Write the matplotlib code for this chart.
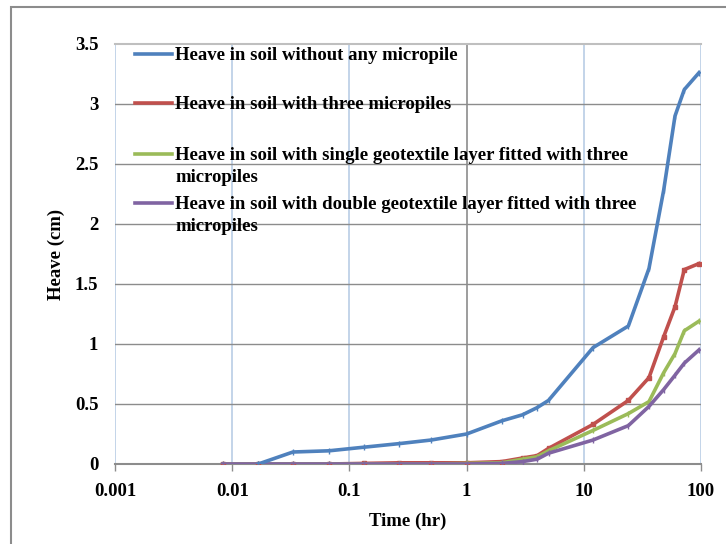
import matplotlib
matplotlib.use("Agg")
import matplotlib.pyplot as plt
from matplotlib.ticker import FixedLocator, NullLocator, FixedFormatter
from matplotlib.patches import Rectangle
from matplotlib.lines import Line2D

plt.rcParams['font.family'] = ['Liberation Serif', 'DejaVu Serif']
plt.rcParams['font.weight'] = 'bold'

# time (hr) of readings
time_hr = [0.0083, 0.0167, 0.033, 0.067, 0.133, 0.267, 0.5, 1, 2, 3, 4, 5,
           12, 24, 36, 48, 60, 72, 96]

# heave (cm)
no_pile = [0.0, 0.10, 0.11, 0.14, 0.17, 0.20, 0.25, 0.36, 0.41, 0.47, 0.53,
           0.97, 1.15, 1.63, 2.28, 2.90, 3.12, 3.26]
three_piles = [0, 0, 0, 0, 0.005, 0.01, 0.01, 0.01, 0.02, 0.05, 0.07, 0.13,
               0.33, 0.53, 0.72, 1.06, 1.31, 1.62, 1.67]
single_geo = [0, 0, 0, 0, 0, 0, 0, 0.005, 0.01, 0.04, 0.06, 0.11,
              0.28, 0.42, 0.52, 0.76, 0.92, 1.11, 1.19]
double_geo = [0, 0, 0, 0, 0, 0, 0, 0, 0.005, 0.02, 0.04, 0.09,
              0.20, 0.32, 0.48, 0.62, 0.74, 0.84, 0.95]

labels = ["Heave in soil without any micropile",
          "Heave in soil with three micropiles",
          "Heave in soil with single geotextile layer fitted with three\nmicropiles",
          "Heave in soil with double geotextile layer fitted with three\nmicropiles"]
colors = ['#4F81BD', '#C0504D', '#9BBB59', '#8064A2']

W, H = 726, 544
fig = plt.figure(figsize=(W / 100, H / 100), dpi=100)
ax = fig.add_axes([115 / W, 1 - 464 / H, 586 / W, 420 / H])

# outer frame of the chart (only left and top visible in the picture)
fig.patches.append(Rectangle((11 / W, -0.1), 1.2, 1 - 7 / H + 0.1,
                             transform=fig.transFigure, fill=False,
                             edgecolor='#8c8c8c', linewidth=1.5))

ax.plot(time_hr[1:], no_pile, color=colors[0], lw=2.6, marker='|', ms=4,
        zorder=5)
ax.plot(time_hr, three_piles, color=colors[1], lw=2.6, marker='s', ms=3.5,
        zorder=4)
ax.plot(time_hr, single_geo, color=colors[2], lw=2.6, marker='|', ms=4,
        zorder=4)
ax.plot(time_hr, double_geo, color=colors[3], lw=2.6, marker='|', ms=4,
        zorder=4)

ax.set_xscale('log')
ax.set_xlim(0.001, 100)
ax.set_ylim(0, 3.5)
xt = [0.001, 0.01, 0.1, 1, 10, 100]
ax.xaxis.set_major_locator(FixedLocator(xt))
ax.xaxis.set_major_formatter(FixedFormatter(['0.001', '0.01', '0.1', '1', '10', '100']))
ax.xaxis.set_minor_locator(NullLocator())
ax.set_yticks([0, 0.5, 1, 1.5, 2, 2.5, 3, 3.5])
ax.set_yticklabels(['0', '0.5', '1', '1.5', '2', '2.5', '3', '3.5'])

# gridlines: vertical light blue (x = 1 grey), horizontal grey
for x in xt:
    c = '#8c8c8c' if x == 1 else '#b9cde5'
    ax.axvline(x, color=c, lw=1.2, zorder=1)
for y in [0.5, 1, 1.5, 2, 2.5, 3]:
    ax.axhline(y, color='#8c8c8c', lw=1.0, zorder=1)

for s in ['left', 'right']:
    ax.spines[s].set_visible(False)
ax.spines['top'].set_color('#bfbfbf')
ax.spines['top'].set_linewidth(1.5)
ax.spines['bottom'].set_color('#8c8c8c')
ax.spines['bottom'].set_linewidth(1.5)

ax.tick_params(axis='x', length=5, color='#8c8c8c', width=1, labelsize=13.5, pad=9)
ax.tick_params(axis='y', length=0, labelsize=13.5, pad=12)

ax.set_xlabel('Time (hr)', fontsize=13.5, fontweight='bold', labelpad=9)
ax.set_ylabel('Heave (cm)', fontsize=13.5, fontweight='bold', labelpad=7)

# legend, laid out like the spreadsheet one: handle beside the first line
entry_y = [54, 103, 154, 203]
for lab, c, py in zip(labels, colors, entry_y):
    fig.lines.append(Line2D([135 / W, 172 / W], [1 - py / H] * 2, color=c,
                            lw=2.6, transform=fig.transFigure))
    fig.text(175 / W, 1 - (py - 7) / H, lab, fontsize=13.5, fontweight='bold',
             va='top', ha='left', linespacing=1.4)

fig.savefig('out.png', dpi=100)
